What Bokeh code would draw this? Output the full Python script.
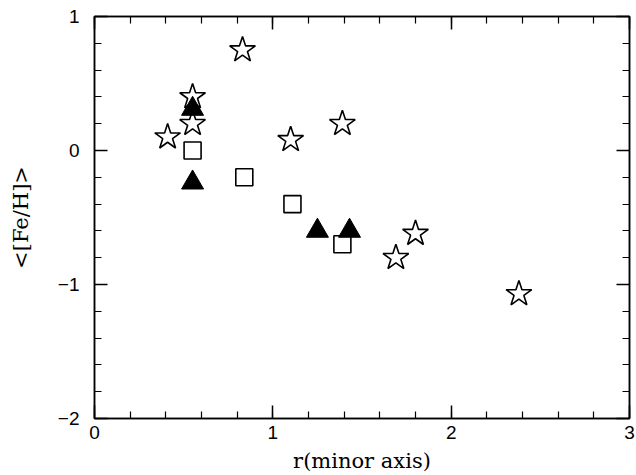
from bokeh.plotting import figure
from bokeh.models import Range1d, FixedTicker, LinearAxis, CustomJSTickFormatter
from bokeh.embed import file_html
from bokeh.resources import INLINE

# Data
star_r = [0.41, 0.55, 0.55, 0.83, 1.10, 1.39, 1.69, 1.80, 2.38]
star_feh = [0.10, 0.40, 0.20, 0.75, 0.08, 0.20, -0.80, -0.62, -1.07]

square_r = [0.55, 0.84, 1.11, 1.39]
square_feh = [0.00, -0.20, -0.40, -0.70]

tri_r = [0.55, 0.55, 1.25, 1.43]
tri_feh = [0.31, -0.24, -0.60, -0.60]

x_major = [0, 1, 2, 3]
x_minor = [round(0.2 * i, 1) for i in range(16)]
y_major = [-2, -1, 0, 1]
y_minor = [round(-2 + 0.2 * i, 1) for i in range(16)]

p = figure(width=636, height=475, output_backend="svg", toolbar_location=None,
           x_range=Range1d(0, 3), y_range=Range1d(-2, 1),
           min_border_left=94, min_border_right=7, min_border_top=16, min_border_bottom=57)
p.xgrid.visible = False
p.ygrid.visible = False
p.outline_line_color = "black"
p.outline_line_width = 1.5
p.background_fill_color = "white"
p.border_fill_color = "white"

def style(ax, ticks, minor):
    ax.ticker = FixedTicker(ticks=ticks, minor_ticks=minor)
    ax.axis_line_color = "black"
    ax.axis_line_width = 1.5
    ax.major_tick_in = 13
    ax.major_tick_out = 0
    ax.minor_tick_in = 7
    ax.minor_tick_out = 0
    ax.major_tick_line_width = 1.5
    ax.minor_tick_line_width = 1.2
    ax.major_tick_line_color = "black"
    ax.minor_tick_line_color = "black"
    ax.major_label_text_font = "Liberation Sans"
    ax.major_label_text_font_size = "19px"
    ax.major_label_text_color = "black"
    ax.axis_label_text_font = "DejaVu Serif"
    ax.axis_label_text_font_size = "21px"
    ax.axis_label_text_font_style = "normal"
    ax.axis_label_text_color = "black"

xa = p.xaxis[0]
style(xa, x_major, x_minor)
xa.axis_label = "r(minor axis)"
xa.major_label_standoff = 7
xa.axis_label_standoff = 7

ya = p.yaxis[0]
style(ya, y_major, y_minor)
ya.axis_label = "<[Fe/H]>"
ya.major_label_standoff = 15
ya.axis_label_standoff = 22

blank = CustomJSTickFormatter(code="return ''")
top = LinearAxis()
style(top, x_major, x_minor)
top.formatter = blank
top.major_label_standoff = 0
p.add_layout(top, "above")
right = LinearAxis()
style(right, y_major, y_minor)
right.formatter = blank
right.major_label_standoff = 0
p.add_layout(right, "right")

p.scatter(star_r, star_feh, marker="star", size=27, fill_color="white",
          line_color="black", line_width=1.6)
p.scatter(square_r, square_feh, marker="square", size=17, fill_color="white",
          line_color="black", line_width=1.6)
p.scatter(tri_r, tri_feh, marker="triangle", size=22, fill_color="black",
          line_color="black", line_width=1)

open("out.html", "w").write(file_html(p, INLINE))
